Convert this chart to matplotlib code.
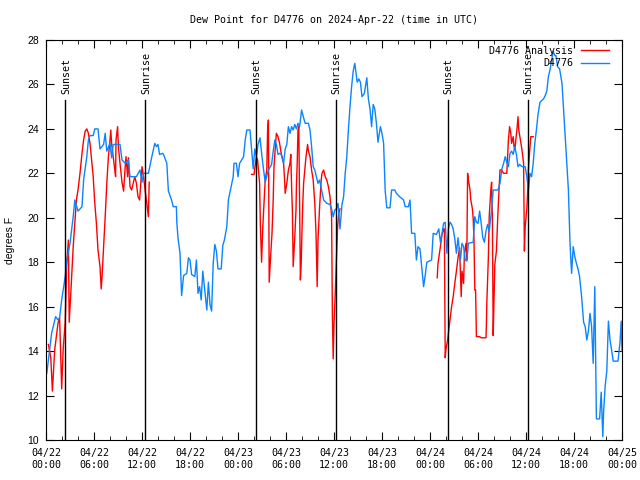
import datetime as dt
import matplotlib
matplotlib.use("Agg")
import matplotlib.pyplot as plt
from matplotlib.ticker import MultipleLocator, FuncFormatter

# hours since 2024-04-22 00:00 UTC
obs_h = [0.0, 0.1, 0.3, 0.7, 1.2, 1.5, 1.7, 1.96, 2.4, 2.6, 3.0, 3.4, 3.6, 4.0, 4.5, 4.7, 5.1, 5.3,
         5.5, 5.9, 6.1, 6.5, 6.75, 7.2, 7.4, 7.6, 8.0, 8.2, 8.4, 9.25, 9.5, 9.9, 10.3, 10.5, 11.3,
         11.75, 12.0, 12.2, 12.8, 13.2, 13.6, 13.8, 14.0, 14.2, 14.6, 14.8, 15.1, 15.3, 15.7, 15.9,
         16.3, 16.35, 16.5, 16.75, 16.95, 17.2, 17.6, 17.8, 18.0, 18.2, 18.6, 18.8, 19.0, 19.2,
         19.4, 19.6, 20.1, 20.3, 20.5, 20.7, 20.9, 21.1, 21.3, 21.5, 21.9, 22.1, 22.3, 22.6, 22.8,
         23.2, 23.4, 23.5, 23.8, 24.0, 24.2, 24.7, 24.9, 25.1, 25.5, 25.7, 25.9, 26.1, 26.3, 26.5,
         26.75, 27.0, 27.2, 27.4, 27.8, 28.2, 28.4, 28.6, 28.8, 29.0, 29.2, 29.4, 29.7, 29.9, 30.1,
         30.3, 30.5, 30.7, 30.9, 31.1, 31.3, 31.5, 31.7, 31.95, 32.2, 32.4, 32.8, 33.0, 33.2, 33.4,
         33.6, 33.8, 34.0, 34.2, 34.7, 35.1, 35.5, 35.7, 35.9, 36.1, 36.3, 36.5, 36.75, 37.0, 37.2,
         37.4, 37.6, 37.8, 38.0, 38.2, 38.4, 38.6, 38.9, 39.1, 39.3, 39.5, 39.8, 40.1, 40.3, 40.5,
         40.7, 40.9, 41.1, 41.3, 41.5, 41.8, 42.0, 42.2, 42.4, 42.6, 43.0, 43.2, 43.6, 43.8, 44.2,
         44.7, 44.9, 45.3, 45.5, 45.7, 46.1, 46.3, 46.5, 46.75, 46.96, 47.2, 47.4, 47.6, 48.2, 48.4,
         48.8, 49.1, 49.3, 49.5, 49.7, 49.9, 50.1, 50.3, 50.5, 50.7, 50.9, 51.1, 51.3, 51.5, 51.8,
         52.0, 52.2, 52.4, 52.6, 52.8, 53.4, 53.6, 53.8, 54.0, 54.2, 54.4, 54.6, 54.8, 55.0, 55.2,
         55.4, 55.7, 55.9, 56.3, 56.5, 56.75, 56.95, 57.2, 57.4, 57.6, 57.8, 58.0, 58.2, 58.4,
         58.6, 58.8, 59.0, 59.2, 59.5, 59.9, 60.1, 60.3, 60.5, 60.7, 60.9, 61.1, 61.3, 61.5, 61.75,
         62.2, 62.4, 62.6, 62.8, 63.0, 63.2, 63.4, 63.6, 63.75, 63.95, 64.2, 64.5, 64.7, 64.9, 65.1,
         65.3, 65.5, 65.7, 65.9, 66.1, 66.3, 66.5, 66.7, 66.95, 67.2, 67.4, 67.6, 67.8, 68.0, 68.2,
         68.4, 68.6, 68.8, 69.2, 69.4, 69.6, 69.7, 69.9, 70.1, 70.3, 70.5, 70.7, 70.9, 71.5, 71.75,
         71.9, 72.0]
obs_v = [12.9, 13.0, 13.6, 14.8, 15.55, 15.4, 15.5, 16.3, 17.35, 18.1, 18.85, 20.05, 20.8, 20.3,
         20.5, 21.7, 22.75, 23.5, 23.7, 23.7, 24.0, 24.0, 23.1, 23.3, 23.8, 23.0, 23.35, 22.7,
         23.3, 23.3, 22.6, 22.45, 22.6, 21.85, 21.85, 22.15, 21.6, 22.0, 22.0, 22.7, 23.35, 23.2,
         23.3, 22.85, 22.9, 22.75, 22.45, 21.2, 20.8, 20.5, 20.5, 19.8, 19.1, 18.4, 16.5, 17.4,
         17.5, 18.2, 18.1, 17.45, 17.35, 18.1, 16.6, 16.9, 16.3, 17.6, 15.85, 17.1, 16.1, 15.8,
         17.95, 18.8, 18.5, 17.7, 17.7, 18.75, 19.0, 19.6, 20.8, 21.5, 21.85, 22.45, 22.45, 21.85,
         22.45, 22.75, 23.5, 23.95, 23.95, 23.1, 22.2, 23.1, 22.75, 23.3, 23.6, 22.75, 22.15, 21.6,
         22.15, 22.4, 23.0, 23.5, 23.3, 22.85, 22.9, 22.85, 22.45, 23.1, 23.3, 24.1, 23.8, 24.1,
         23.95, 24.2, 24.0, 24.25, 24.1, 24.85, 24.5, 24.25, 24.25, 23.95, 23.2, 22.3, 22.15,
         21.85, 21.55, 21.7, 20.8, 20.65, 20.6, 20.4, 20.05, 20.35, 20.4, 20.65, 19.5, 20.6, 20.95,
         22.0, 22.75, 23.95, 25.0, 25.9, 26.6, 26.95, 26.1, 26.25, 26.1, 25.45, 25.6, 26.3, 25.35,
         24.9, 24.1, 25.1, 24.9, 24.25, 23.4, 24.1, 23.8, 23.35, 21.2, 20.45, 20.45, 21.25, 21.25,
         21.1, 20.95, 20.8, 20.5, 20.5, 20.8, 19.3, 19.3, 18.1, 18.7, 18.6, 17.8, 16.9, 17.4, 18.0,
         18.1, 19.3, 19.25, 19.5, 18.9, 19.3, 19.75, 19.8, 18.4, 19.5, 19.8, 19.7, 19.5, 19.05,
         18.4, 19.1, 18.1, 18.85, 18.7, 18.1, 18.05, 18.85, 18.9, 20.05, 19.8, 19.75, 20.3, 19.75,
         19.1, 18.9, 19.4, 19.7, 19.4, 20.35, 21.25, 21.25, 21.25, 21.55, 22.15, 22.45, 22.75,
         22.5, 22.3, 22.9, 23.0, 22.85, 23.2, 22.85, 22.3, 22.4, 22.3, 22.3, 21.85, 21.25, 22.0,
         21.85, 22.45, 23.35, 23.95, 24.65, 25.2, 25.35, 25.5, 25.7, 26.35, 26.65, 27.1, 27.5,
         27.3, 27.3, 26.8, 26.7, 26.05, 24.85, 23.65, 22.45, 21.25, 18.85, 17.5, 18.7, 18.25,
         17.95, 17.7, 17.35, 16.45, 15.3, 15.1, 14.5, 14.9, 15.7, 15.1, 13.45, 16.9, 10.95, 10.95,
         12.15, 10.15, 11.25, 12.45, 13.1, 15.35, 14.5, 14.05, 13.55, 13.55, 14.4, 15.35, 14.0]

ana1_h = [0.3, 0.6, 0.8, 1.0, 1.1, 1.5, 1.7, 1.96, 2.15, 2.4, 2.6, 2.8, 2.9, 3.1, 3.2, 3.4, 3.6,
          3.8, 4.0, 4.25, 4.5, 4.7, 4.9, 5.1, 5.3, 5.5, 5.7, 5.9, 6.1, 6.3, 6.5, 6.75, 6.9, 7.0,
          7.2, 7.4, 7.6, 7.8, 8.0, 8.1, 8.2, 8.4, 8.6, 8.7, 8.75, 8.95, 9.05, 9.25, 9.5, 9.7,
          9.9, 10.0, 10.2, 10.3, 10.5, 10.7, 10.9, 11.1, 11.3, 11.5, 11.7, 12.0, 12.2, 12.4,
          12.6, 12.8, 12.9]
ana1_v = [14.3, 13.7, 12.2, 13.5, 14.1, 15.25, 15.5, 12.3, 14.1, 15.3, 17.95, 19.0, 15.3, 16.6,
          17.3, 18.7, 19.75, 20.8, 21.25, 22.0, 22.9, 23.5, 23.9, 24.0, 23.8, 23.35, 22.6,
          21.85, 20.65, 19.75, 18.55, 17.8, 16.8, 17.3, 18.7, 20.05, 21.55, 22.75, 23.5, 23.95,
          23.35, 22.75, 22.15, 21.85, 23.5, 24.1, 23.2, 22.45, 21.6, 21.2, 22.3, 22.75, 21.85,
          22.7, 21.4, 21.25, 21.55, 21.85, 21.55, 20.95, 20.8, 22.3, 21.85, 21.2, 20.65, 20.05,
          21.6]

ana2_h = [25.7, 26.0, 26.3, 26.45, 26.7, 26.8, 26.95, 27.1, 27.25, 27.4, 27.6, 27.7, 27.8,
          27.9, 28.1, 28.25, 28.4, 28.5, 28.7, 28.8, 29.0, 29.2, 29.4, 29.7, 29.8, 29.9, 30.1,
          30.3, 30.5, 30.6, 30.7, 30.8, 30.9, 31.1, 31.25, 31.3, 31.4, 31.5, 31.6, 31.8, 31.9,
          32.0, 32.1, 32.2, 32.5, 32.7, 32.8, 33.0, 33.2, 33.4, 33.6, 33.75, 33.9, 34.0, 34.2,
          34.4, 34.5, 34.7, 34.9, 35.1, 35.3, 35.5, 35.7, 35.8, 35.9, 36.0, 36.1, 36.2, 36.3,
          36.45, 36.6, 36.75]
ana2_v = [21.95, 21.95, 22.75, 22.6, 21.55, 19.6, 18.0, 19.6, 20.65, 21.7, 22.15, 23.95, 24.4,
          17.1, 18.4, 19.3, 20.8, 22.3, 23.35, 23.8, 23.65, 23.35, 22.9, 22.45, 21.85, 21.1,
          21.55, 22.15, 22.45, 22.85, 21.4, 20.3, 17.8, 19.15, 20.35, 21.4, 22.45, 23.95, 24.1,
          17.2, 17.95, 19.45, 20.65, 21.55, 22.75, 23.3, 23.0, 22.75, 22.15, 21.7, 20.65, 19.3,
          16.9, 19.0, 20.5, 21.7, 22.0, 22.15, 21.85, 21.7, 21.4, 20.95, 20.05, 15.55, 13.65,
          15.2, 16.1, 17.0, 18.1, 19.6, 20.2, 20.4]

ana3_h = [48.9, 49.0, 49.3, 49.5, 49.7, 49.8, 49.9, 50.0, 50.2, 50.3, 50.5, 50.7, 50.9, 51.1,
          51.3, 51.5, 51.7, 51.9, 52.0, 52.2, 52.3, 52.5, 52.6, 52.7, 52.8, 53.0, 53.1, 53.3,
          53.4, 53.5, 53.6, 53.7, 53.8, 54.2, 54.4, 55.0, 55.05, 55.1, 55.3, 55.4, 55.6, 55.7,
          55.8, 55.9, 56.0, 56.1, 56.3, 56.4, 56.5, 56.75, 56.95, 57.2, 57.6, 57.8, 57.95, 58.1,
          58.2, 58.4, 58.5, 58.6, 58.9, 59.0, 59.1, 59.3, 59.5, 59.7, 59.8, 59.9, 60.1, 60.2,
          60.3, 60.5, 60.6, 60.9]
ana3_v = [17.3, 17.95, 18.7, 19.25, 19.5, 19.5, 13.7, 14.1, 14.5, 14.8, 15.4, 16.0, 16.45,
          17.05, 17.6, 18.2, 18.65, 16.45, 17.6, 17.05, 18.4, 18.85, 18.1, 22.0, 21.7, 21.25,
          20.8, 20.4, 19.95, 19.0, 16.75, 16.75, 14.65, 14.65, 14.6, 14.6, 15.2, 16.15, 18.25,
          20.05, 21.25, 21.6, 19.9, 14.7, 16.25, 17.9, 18.5, 19.4, 20.3, 22.15, 22.15, 22.0,
          22.0, 23.5, 24.1, 23.8, 23.35, 23.65, 23.2, 23.05, 24.1, 24.55, 23.95, 23.5, 23.05,
          22.45, 18.5, 19.6, 20.4, 21.1, 22.15, 23.2, 23.65, 23.65]

sun_h = [2.4, 12.4, 26.25, 36.25, 50.25, 60.25]
sun_lbl = ["Sunset", "Sunrise", "Sunset", "Sunrise", "Sunset", "Sunrise"]

plt.rcParams["font.family"] = "DejaVu Sans Mono"
plt.rcParams["font.size"] = 7.2

fig = plt.figure(figsize=(6.4, 4.8), dpi=100)
ax = fig.add_axes([46 / 640, 40 / 480, 576 / 640, 400 / 480])

ax.plot(ana1_h, ana1_v, color="#ff0000", lw=1, label="D4776 Analysis")
ax.plot(ana2_h, ana2_v, color="#ff0000", lw=1)
ax.plot(ana3_h, ana3_v, color="#ff0000", lw=1)
ax.plot(obs_h, obs_v, color="#0a84ff", lw=1, label="D4776")

for h, lbl in zip(sun_h, sun_lbl):
    ax.plot([h, h], [10, 25.3], color="black", lw=1)
    ax.text(h + 0.1, 25.55, lbl, rotation=90, ha="center", va="bottom", fontsize=7.2)

ax.set_xlim(0, 72)
ax.set_ylim(10, 28)
ax.xaxis.set_major_locator(MultipleLocator(6))
ax.xaxis.set_minor_locator(MultipleLocator(2))
ax.yaxis.set_major_locator(MultipleLocator(2))

t0 = dt.datetime(2024, 4, 22)
ax.xaxis.set_major_formatter(FuncFormatter(
    lambda v, p: (t0 + dt.timedelta(hours=v)).strftime("%m/%d\n%H:%M")))
ax.tick_params(which="both", direction="in", top=True, right=True)
ax.tick_params(which="major", length=6)
ax.tick_params(which="minor", length=3)
ax.tick_params(axis="x", pad=6)
ax.tick_params(axis="y", pad=5, labelfontfamily="Liberation Sans", labelsize=7.5)

ax.set_ylabel("degrees F", family="Liberation Sans", fontsize=7.5, labelpad=9)
ax.set_title("Dew Point for D4776 on 2024-Apr-22 (time in UTC)", fontsize=7.2, pad=12)

leg = ax.legend(loc="upper right", bbox_to_anchor=(0.9774, 0.985), frameon=False,
                markerfirst=False, handlelength=2.8, borderaxespad=0, labelspacing=0.25,
                handletextpad=0.8, borderpad=0)
for t in leg.get_texts():
    t.set_ha("right")

fig.savefig("out.png", dpi=100)
